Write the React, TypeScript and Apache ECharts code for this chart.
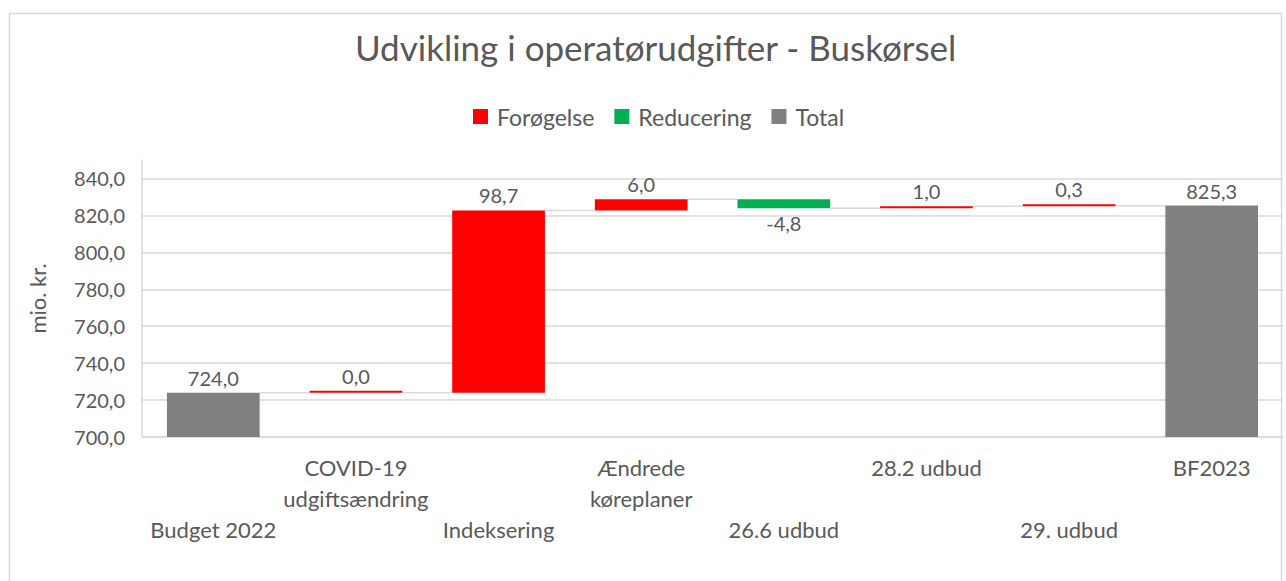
import React, { useEffect, useRef } from 'react';
import * as echarts from 'echarts';

const categories = [
  'Budget 2022',
  'COVID-19\nudgiftsændring',
  'Indeksering',
  'Ændrede\nkøreplaner',
  '26.6 udbud',
  '28.2 udbud',
  '29. udbud',
  'BF2023',
];
const startTotal = 724.0;
const changes = [0.0, 98.7, 6.0, -4.8, 1.0, 0.3];
const endTotal = 825.3;
const legendNames = ['Forøgelse', 'Reducering', 'Total'];
const yMin = 700;
const yMax = 850;
const yInterval = 20;

const FONT = 'Lato';
const TXT = '#595959';
const GRID = '#d9d9d9';

function fmt(v: number) {
  return v.toFixed(1).replace('.', ',');
}

export default function App() {
  const ref = useRef<HTMLDivElement>(null);
  useEffect(() => {
    if (!ref.current) return;
    const chart = echarts.init(ref.current, undefined, { renderer: 'svg' });

    const base: (number | string)[] = [];
    const inc: (number | string)[] = [];
    const dec: (number | string)[] = [];
    const tot: (number | string)[] = [];
    const connectors: number[][] = [];
    let level = startTotal;
    base.push('-'); inc.push('-'); dec.push('-'); tot.push(startTotal);
    connectors.push([0, level]);
    changes.forEach((c, k) => {
      const i = k + 1;
      if (c >= 0) {
        base.push(level); inc.push(c); dec.push('-'); tot.push('-');
        level = level + c;
      } else {
        level = level + c;
        base.push(level); inc.push('-'); dec.push(-c); tot.push('-');
      }
      connectors.push([i, level]);
    });
    base.push('-'); inc.push('-'); dec.push('-'); tot.push(endTotal);

    const barPct = 0.65;
    const labelCommon = {
      show: true,
      fontFamily: FONT,
      fontSize: 20,
      color: TXT,
      distance: 5,
    };

    chart.setOption({
      animation: false,
      backgroundColor: '#fff',
      textStyle: { fontFamily: FONT },
      graphic: [
        {
          type: 'rect',
          shape: { x: 9.5, y: 13.5, width: 1272, height: 580 },
          style: { fill: 'none', stroke: GRID, lineWidth: 1.5 },
          silent: true,
        },
      ],
      title: {
        text: 'Udvikling i operatørudgifter - Buskørsel',
        left: 355,
        top: 29,
        padding: 0,
        textStyle: { fontFamily: FONT, fontSize: 35, fontWeight: 'normal', color: TXT },
      },
      legend: {
        data: legendNames,
        left: 473,
        top: 105,
        padding: 0,
        itemWidth: 15,
        itemHeight: 15,
        itemGap: 20,
        icon: 'rect',
        textStyle: { fontFamily: FONT, fontSize: 23, color: TXT, padding: [0, 0, 0, 4] },
      },
      grid: { left: 142, right: 3, top: 160, bottom: 144, containLabel: false },
      xAxis: {
        type: 'category',
        data: categories,
        axisLine: { show: true, lineStyle: { color: GRID, width: 1.5 } },
        axisTick: { show: false },
        axisLabel: {
          interval: 0,
          margin: 15,
          fontFamily: FONT,
          fontSize: 22,
          color: TXT,
          lineHeight: 31,
          formatter: (v: string, i: number) => (i % 2 === 0 ? '\n\n' + v : v),
        },
      },
      yAxis: {
        type: 'value',
        min: yMin,
        max: yMax,
        interval: yInterval,
        name: 'mio. kr.',
        nameLocation: 'middle',
        nameRotate: 90,
        nameGap: 94,
        nameTextStyle: { fontFamily: FONT, fontSize: 22, color: TXT },
        axisLine: { show: true, lineStyle: { color: GRID, width: 1.5 } },
        axisTick: { show: false },
        axisLabel: {
          margin: 17,
          fontFamily: FONT,
          fontSize: 20,
          color: TXT,
          showMaxLabel: false,
          formatter: (v: number) => (v > 840 ? '' : fmt(v)),
        },
        splitLine: { show: true, showMaxLine: false, lineStyle: { color: GRID, width: 1.5 } },
      },
      series: [
        {
          name: 'base',
          type: 'bar',
          stack: 'w',
          barWidth: barPct * 100 + '%',
          itemStyle: { color: 'transparent' },
          emphasis: { disabled: true },
          data: base,
          silent: true,
        },
        {
          name: 'Forøgelse',
          type: 'bar',
          stack: 'w',
          barMinHeight: 2,
          itemStyle: { color: '#FF0000' },
          label: { ...labelCommon, position: 'top', formatter: (p: any) => fmt(p.value) },
          data: inc,
        },
        {
          name: 'Reducering',
          type: 'bar',
          stack: 'w',
          barMinHeight: 2,
          itemStyle: { color: '#00B050' },
          label: { ...labelCommon, position: 'bottom', formatter: (p: any) => fmt(-p.value) },
          data: dec,
        },
        {
          name: 'Total',
          type: 'bar',
          stack: 'w',
          itemStyle: { color: '#808080' },
          label: { ...labelCommon, position: 'top', formatter: (p: any) => fmt(p.value) },
          data: tot,
        },
        {
          name: 'connectors',
          type: 'custom',
          silent: true,
          z: 1,
          data: connectors,
          renderItem: (params: any, api: any) => {
            const i = api.value(0);
            const lv = api.value(1);
            const p = api.coord([i, lv]);
            const band = api.size([1, 0])[0];
            const bw = band * barPct;
            return {
              type: 'line',
              shape: { x1: p[0] + bw / 2, y1: p[1], x2: p[0] + band - bw / 2, y2: p[1] },
              style: { stroke: GRID, lineWidth: 1.5 },
            };
          },
        },
      ],
    });
    return () => chart.dispose();
  }, []);
  return (
    <div
      ref={ref}
      style={{ position: 'fixed', left: 0, top: 0, width: 1286, height: 581 }}
    />
  );
}
